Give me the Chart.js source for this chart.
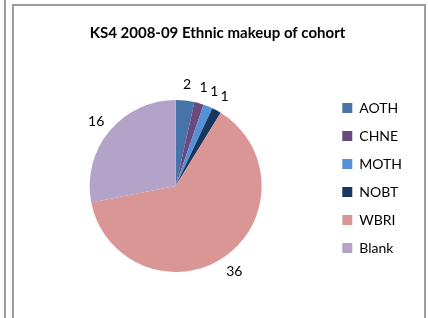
<!DOCTYPE html>
<html>
<head>
<meta charset="utf-8">
<script src="https://cdn.jsdelivr.net/npm/chart.js@4.4.0/dist/chart.umd.min.js"></script>
<style>
  html, body { margin: 0; padding: 0; background: #fff; }
  body { width: 428px; height: 318px; position: relative; overflow: hidden; }
  .side-line { position: absolute; left: 4px; top: 0; width: 2px; height: 318px; background: #9c9c9c; }
  .frame { position: absolute; left: 12px; top: 4px; width: 410px; height: 330px; border: 2px solid #9c9c9c; border-bottom: none; }
  #wrap { position: absolute; left: 0; top: 0; width: 428px; height: 318px; }
</style>
</head>
<body>
<div class="side-line"></div>
<div class="frame"></div>
<div id="wrap"><canvas id="ethnicChart" width="428" height="318"></canvas></div>
<script>
const titleText = 'KS4 2008-09 Ethnic makeup of cohort';
const groups = ['AOTH', 'CHNE', 'MOTH', 'NOBT', 'WBRI', 'Blank'];
const counts = [2, 1, 1, 1, 36, 16];
const sliceColours = ['#4673a8', '#6a4a7e', '#5690d6', '#17375e', '#da9694', '#b3a3c8'];

// value labels just outside each slice, like Excel's "outside end"
const sliceLabels = {
    id: 'sliceLabels',
    afterDatasetsDraw(chart) {
        const ctx = chart.ctx;
        const meta = chart.getDatasetMeta(0);
        ctx.save();
        ctx.font = '14px Lato';
        ctx.fillStyle = '#000';
        ctx.textAlign = 'center';
        ctx.textBaseline = 'middle';
        meta.data.forEach((arc, i) => {
            const p = arc.getProps(['x', 'y', 'startAngle', 'endAngle', 'outerRadius'], true);
            const mid = (p.startAngle + p.endAngle) / 2;
            const r = p.outerRadius + 17;
            ctx.fillText(String(counts[i]), p.x + Math.cos(mid) * r, p.y + Math.sin(mid) * r + 1);
        });
        ctx.restore();
    }
};

const ctx = document.getElementById('ethnicChart').getContext('2d');
new Chart(ctx, {
    type: 'pie',
    data: {
        labels: groups,
        datasets: [{
            data: counts,
            backgroundColor: sliceColours,
            borderWidth: 0
        }]
    },
    options: {
        responsive: false,
        animation: false,
        radius: 86,
        layout: {
            padding: { left: 23, right: 16, top: 4, bottom: 33 }
        },
        plugins: {
            title: {
                display: true,
                text: titleText,
                color: '#000',
                font: { family: 'Lato', size: 15, weight: 'bold' },
                padding: { top: 20, bottom: 45 }
            },
            legend: {
                position: 'right',
                align: 'start',
                fullSize: false,
                labels: {
                    color: '#000',
                    font: { family: 'Lato', size: 14 },
                    boxWidth: 10,
                    boxHeight: 10,
                    padding: 14
                }
            },
            tooltip: { enabled: false }
        }
    },
    plugins: [sliceLabels]
});
</script>
</body>
</html>
